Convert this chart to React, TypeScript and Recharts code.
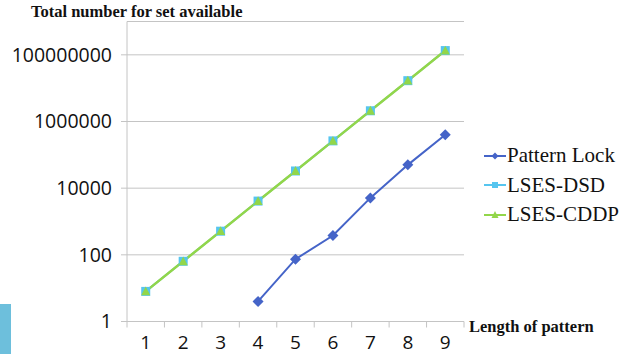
import { LineChart, Line, XAxis, YAxis, CartesianGrid, ReferenceLine } from 'recharts'

// ─── data ─────────────────────────────────────────────────────────────────

const lengths      = [1, 2, 3, 4, 5, 6, 7, 8, 9]
const patternLock  = [null, null, null, 4, 74, 380, 5100, 50000, 400000]
const lsesDsd      = [8, 64, 512, 4096, 32768, 262144, 2097152, 16777216, 134217728]
const lsesCddp     = [8, 64, 512, 4096, 32768, 262144, 2097152, 16777216, 134217728]
const yTicks       = [1, 100, 10000, 1000000, 100000000]
const edgeTicks    = [0.5, ...lengths.map(n => n + 0.5)]

const chartData = lengths.map((n, i) => ({
  length: n,
  lock: patternLock[i],
  dsd: lsesDsd[i],
  cddp: lsesCddp[i],
}))

// ─── palette ──────────────────────────────────────────────────────────────

const BLUE  = '#4564c8'
const CYAN  = '#56c5ef'
const GREEN = '#92d64a'
const GRID  = '#c4c4c4'

const SANS  = '"Open Sans", "Noto Sans", sans-serif'
const SERIF = '"Liberation Serif", "Times New Roman", serif'

// ─── markers ──────────────────────────────────────────────────────────────

function Diamond({ cx, cy, r = 5, color = BLUE }: any) {
  if (cx == null || cy == null) return <g />
  return <path d={`M${cx},${cy - r}L${cx + r},${cy}L${cx},${cy + r}L${cx - r},${cy}Z`} fill={color} />
}

function Square({ cx, cy, s = 8, color = CYAN }: any) {
  if (cx == null || cy == null) return <g />
  return <rect x={cx - s / 2} y={cy - s / 2} width={s} height={s} fill={color} />
}

function Triangle({ cx, cy, s = 9, color = GREEN }: any) {
  if (cx == null || cy == null) return <g />
  const h = s * 0.87
  return <path d={`M${cx},${cy - h / 2 - 1}L${cx + s / 2},${cy + h / 2}L${cx - s / 2},${cy + h / 2}Z`} fill={color} />
}

// short tick mark below the x axis at a category boundary
function EdgeTick(props: any) {
  const { x1, y1, y2 } = props
  if (x1 == null) return <g />
  const bottom = Math.max(y1, y2)
  return <line x1={x1} x2={x1} y1={bottom} y2={bottom + 6} stroke={GRID} strokeWidth={1} />
}

// ─── legend ───────────────────────────────────────────────────────────────

const legendItems = [
  { name: 'Pattern Lock', color: BLUE,  Marker: Diamond,  size: 3.5 },
  { name: 'LSES-DSD',     color: CYAN,  Marker: Square,   size: 6 },
  { name: 'LSES-CDDP',    color: GREEN, Marker: Triangle, size: 7 },
]

function SideLegend() {
  return (
    <div style={{ position: 'absolute', left: 484, top: 141, width: 140 }}>
      {legendItems.map(({ name, color, Marker, size }) => (
        <div key={name} style={{ display: 'flex', alignItems: 'center', height: 29.5 }}>
          <svg width={22} height={12} style={{ marginRight: 1 }}>
            <line x1={0} y1={6} x2={22} y2={6} stroke={color} strokeWidth={2} />
            <Marker cx={11} cy={6} r={size} s={size} color={color} />
          </svg>
          <span style={{ fontFamily: SERIF, fontSize: 21, color: '#111', lineHeight: 1 }}>{name}</span>
        </div>
      ))}
    </div>
  )
}

// ─── component ────────────────────────────────────────────────────────────

export default function App() {
  return (
    <div style={{ position: 'absolute', left: 0, top: 0, width: 625, height: 354, background: '#fff', overflow: 'hidden' }}>
      <div style={{ position: 'absolute', left: 0, top: 304, width: 11, height: 50, background: '#6dbfdc' }} />
      <div style={{ position: 'absolute', left: 31, top: 4, fontFamily: SERIF, fontWeight: 700, fontSize: 16.5, lineHeight: 1, color: '#111', whiteSpace: 'nowrap' }}>
        Total number for set available
      </div>
      <div style={{ position: 'absolute', left: 469, top: 319, fontFamily: SERIF, fontWeight: 700, fontSize: 16.5, lineHeight: 1, color: '#111', whiteSpace: 'nowrap' }}>
        Length of pattern
      </div>
      <LineChart width={625} height={354} data={chartData} margin={{ top: 21.5, right: 161, left: 0, bottom: 0 }}>
        <CartesianGrid vertical={false} stroke={GRID} strokeWidth={1} />
        <XAxis
          dataKey="length"
          type="number"
          domain={[0.5, 9.5]}
          ticks={lengths}
          axisLine={{ stroke: GRID }}
          tickLine={false}
          tickSize={6}
          tickMargin={8}
          tick={{ fill: '#111', fontSize: 19, fontFamily: SANS }}
          height={32.5}
        />
        <YAxis
          scale="log"
          domain={[1, 1000000000]}
          ticks={yTicks}
          allowDataOverflow
          axisLine={{ stroke: GRID }}
          tickLine={{ stroke: GRID }}
          tickSize={6}
          tickMargin={9}
          tick={{ fill: '#111', fontSize: 19.5, fontFamily: SANS }}
          width={127}
        />
        {edgeTicks.map(e => (
          <ReferenceLine key={e} x={e} ifOverflow="visible" shape={EdgeTick} />
        ))}
        <Line
          dataKey="lock"
          name="Pattern Lock"
          stroke={BLUE}
          strokeWidth={2}
          dot={(p: any) => <Diamond key={p.index} cx={p.cx} cy={p.cy} r={5.5} />}
          isAnimationActive={false}
        />
        <Line
          dataKey="dsd"
          name="LSES-DSD"
          stroke={CYAN}
          strokeWidth={2}
          dot={(p: any) => <Square key={p.index} cx={p.cx} cy={p.cy} s={9} />}
          isAnimationActive={false}
        />
        <Line
          dataKey="cddp"
          name="LSES-CDDP"
          stroke={GREEN}
          strokeWidth={2.5}
          dot={(p: any) => <Triangle key={p.index} cx={p.cx} cy={p.cy} s={9} />}
          isAnimationActive={false}
        />
      </LineChart>
      <SideLegend />
    </div>
  )
}
